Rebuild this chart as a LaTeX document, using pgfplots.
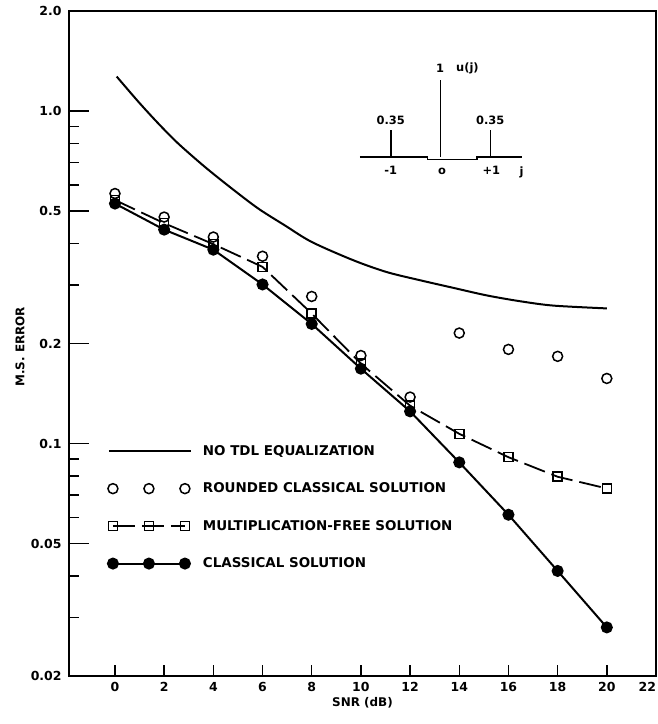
\documentclass[border=0pt]{standalone}
\usepackage{fontspec}
\setmainfont{DejaVu Sans}
\usepackage{pgfplots}
\pgfplotsset{compat=1.18}
\pgfplotsset{
  mylinelegend/.style={legend image code/.code={\draw[##1] (-4bp,0bp) -- (78bp,0bp);}},
  mymarklegend/.style={legend image code/.code={\draw[##1] plot coordinates {(0bp,0bp) (36bp,0bp) (72bp,0bp)};}},
}
\begin{document}
\begin{tikzpicture}
\begin{axis}[
  at={(0,0)}, anchor=south west,
  scale only axis, width=587bp, height=665bp,
  ymode=log, xmin=-1.87, xmax=22, ymin=0.02, ymax=2,
  axis line style={line width=1.8bp},
  xtick={0,2,...,22},
  xticklabels={0,2,4,6,8,10,12,14,16,18,20,\makebox[0pt][r]{22}},
  ytick={0.02,0.05,0.1,0.2,0.5,1,2},
  yticklabels={0.02,0.05,0.1,0.2,0.5,1.0,2.0},
  minor ytick={0.03,0.04,0.06,0.07,0.08,0.09,0.3,0.4,0.6,0.7,0.8,0.9},
  xtick pos=bottom, ytick pos=left,
  tick align=inside,
  major tick length=11bp, minor tick length=10bp,
  major y tick style={/pgfplots/major tick length=20bp},
  tick style={line width=1.4bp, black},
  /pgf/number format/assume math mode=true,
  ticklabel style={font=\bfseries\fontsize{12.5}{14}\selectfont},
  yticklabel style={xshift=-4bp},
  xticklabel style={yshift=-3bp},
  xlabel={SNR (dB)}, ylabel={M.S. ERROR},
  xlabel style={at={(axis description cs:0.5,0)}, anchor=center, yshift=-27bp, font=\bfseries\fontsize{12}{14}\selectfont},
  every axis y label/.style={at={(axis description cs:-0.0835,0.495)}, rotate=90, anchor=center, font=\bfseries\fontsize{12}{14}\selectfont},
  legend cell align=left,
  legend style={at={(rel axis cs:0.066,0.350)}, anchor=north west, draw=none, fill=none,
    font=\bfseries\fontsize{13.5}{16}\selectfont, row sep=22bp, inner sep=0pt,
    /tikz/every odd column/.append style={column sep=9bp}},
  mymarklegend,
]
\addplot[line width=2bp, smooth, mark=none, mylinelegend]
  coordinates {(0.07,1.27) (0.95,1.067) (1.76,0.918) (2.57,0.799) (3.66,0.679) (4.75,0.585) (5.83,0.509) (6.91,0.453) (8.0,0.404) (9.69,0.356) (11.05,0.328) (12.4,0.310) (13.76,0.294) (15.12,0.279) (16.47,0.268) (17.83,0.260) (20,0.255)};
\addlegendentry{NO TDL EQUALIZATION}
\addplot[only marks, mark=o, mark size=5bp, mark options={fill=white, line width=1.5bp}]
  coordinates {(0,0.565) (2,0.48) (4,0.418) (6,0.366) (8,0.277) (10,0.184) (12,0.138) (14,0.215) (16,0.192) (18,0.183) (20,0.157)};
\addlegendentry{ROUNDED CLASSICAL SOLUTION}
\addplot[line width=1.8bp, dash pattern=on 22bp off 7bp, mark=square, mark size=4.5bp, mark options={solid, fill=white, line width=1.5bp}]
  coordinates {(0,0.54) (2,0.46) (4,0.398) (6,0.34) (8,0.246) (10,0.174) (12,0.130) (14,0.107) (16,0.091) (18,0.0795) (20,0.0733)};
\addlegendentry{MULTIPLICATION-FREE SOLUTION}
\addplot[line width=2bp, mark=*, mark size=5bp, mark options={fill=black}]
  coordinates {(0,0.527) (2,0.44) (4,0.383) (6,0.301) (8,0.229) (10,0.168) (12,0.125) (14,0.0878) (16,0.0611) (18,0.0414) (20,0.028)};
\addlegendentry{CLASSICAL SOLUTION}
\end{axis}
\begin{axis}[
  at={(321.7bp,519bp)}, anchor=south west,
  scale only axis, width=99.6bp, height=77bp,
  xmin=-1, xmax=1, ymin=0, ymax=1,
  axis lines=none, ticks=none, clip=false,
]
\addplot[ycomb, line width=1.6bp, mark=none] coordinates {(-1,0.35) (0,1) (1,0.35)};
\draw[line width=1.6bp] (axis cs:-1.62,0) -- (axis cs:-0.26,0) -- (axis cs:-0.26,-0.03) -- (axis cs:0.73,-0.03) -- (axis cs:0.73,0) -- (axis cs:1.64,0);
\begin{scope}[every node/.style={font=\bfseries\fontsize{11.5}{13}\selectfont}]
\node at (axis cs:-1,0.48) {0.35};
\node at (axis cs:1,0.48) {0.35};
\node at (axis cs:-0.01,1.15) {1};
\node at (axis cs:0.54,1.15) {u(j)};
\node at (axis cs:-1,-0.17) {-1};
\node at (axis cs:0.03,-0.19) {o};
\node at (axis cs:1.02,-0.17) {+1};
\node at (axis cs:1.63,-0.2) {j};
\end{scope}
\end{axis}
\pgfresetboundingbox
\useasboundingbox (-69bp,-48bp) rectangle (589bp,676bp);
\end{tikzpicture}
\end{document}
